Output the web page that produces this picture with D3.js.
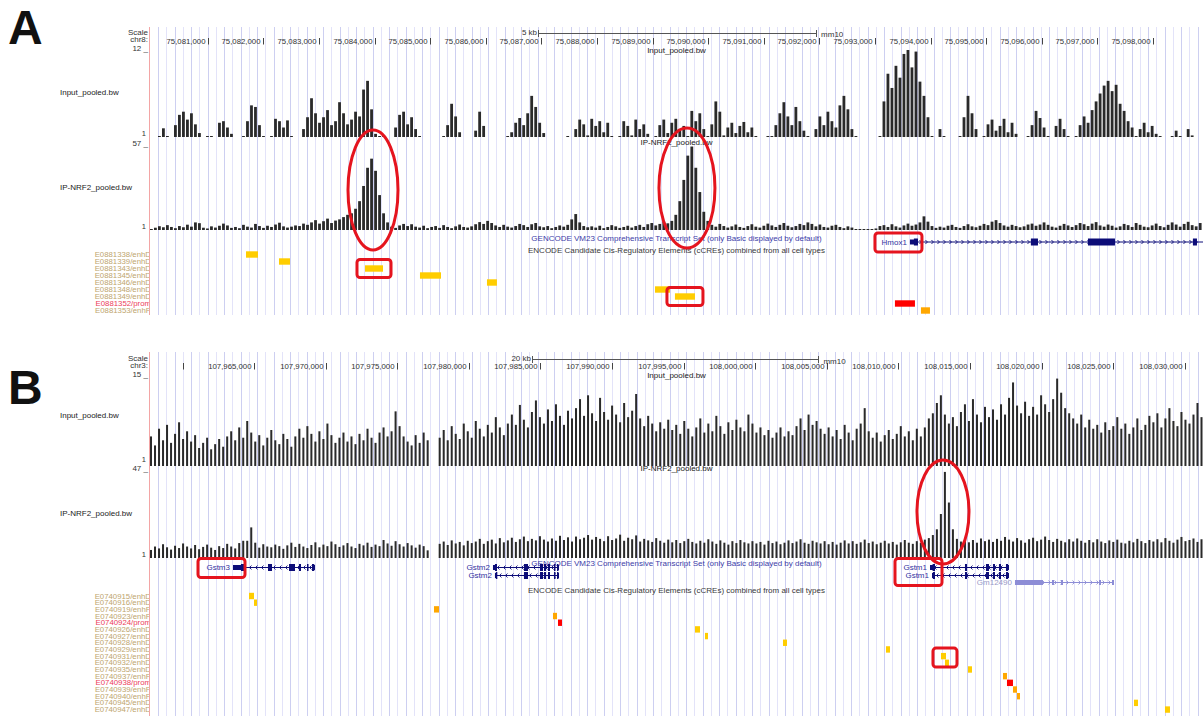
<!DOCTYPE html>
<html><head><meta charset="utf-8">
<script src="https://cdn.jsdelivr.net/npm/d3@7"></script>
<style>
body{margin:0;background:#fff;}
svg text{font-family:"Liberation Sans",Arial,Helvetica,sans-serif;}
</style></head><body>
<svg id="chart" width="1203" height="716"></svg>
<script>
// ---------------- DATA ----------------
const panelLetters = ["A", "B"];
const chromLabels = ["chr8:", "chr3:"];
const regionStart = [75079960, 107957730];
const regionEnd = [75098900, 108031265];
const binSize = [72, 280];
const scaleBarStart = [75086940, 107984406];
const scaleBarLength = [5000, 20000];
const scaleBarLabels = ["5 kb", "20 kb"];
const trackNames = ["Input_pooled.bw", "IP-NRF2_pooled.bw"];
const trackMaxA = [12, 57];
const trackMaxB = [15, 47];

const ticksA = [75081000,75082000,75083000,75084000,75085000,75086000,75087000,75088000,75089000,75090000,75091000,75092000,75093000,75094000,75095000,75096000,75097000,75098000];
const tickLabelsA = ["75,081,000","75,082,000","75,083,000","75,084,000","75,085,000","75,086,000","75,087,000","75,088,000","75,089,000","75,090,000","75,091,000","75,092,000","75,093,000","75,094,000","75,095,000","75,096,000","75,097,000","75,098,000"];
const ticksB = [107960000,107965000,107970000,107975000,107980000,107985000,107990000,107995000,108000000,108005000,108010000,108015000,108020000,108025000,108030000];
const tickLabelsB = ["","107,965,000","107,970,000","107,975,000","107,980,000","107,985,000","107,990,000","107,995,000","108,000,000","108,005,000","108,010,000","108,015,000","108,020,000","108,025,000","108,030,000"];

// signal values per bin (0 = no data)
const inputA = [
0,0,1,2.1,1,0,2.5,3.8,4.2,3.2,
4.0,2.6,1.5,0,1,1,0,2.8,3.0,2.2,
1.4,0,0,1,3.0,5.0,4.8,2.5,1,0,
1,3.3,3.0,2.2,3.1,1,0,0,2.0,3.5,
5.9,4.0,2.8,3.5,4.4,2.5,3.0,5.4,4.0,2.6,
3.2,4.2,3.6,7.0,8.1,4.5,1.4,1,1,0,
0,2.2,3.8,4.2,2.6,3.5,2.0,1,0,0,
0,0,0,1,2.5,5.2,3.6,1.6,0,0,
0,1.8,4.2,2.4,0,0,0,0,0,1,
1.6,2.8,3.4,2.5,4.0,6.2,4.8,2.8,1.5,0,
0,0,0,0,1,0,2.0,3.2,2.6,1.2,
3.3,2.4,3.0,1.6,2.8,1,0,1,3.0,2.4,
1.2,3.2,2.0,2.6,1.4,0,1,2.5,3.2,1.5,
2.8,3.3,1.8,2.4,1,4.3,3.0,4.0,2.0,1,
2.6,5.5,4.2,1.2,2.2,2.8,1.5,2.4,2.9,1.6,
2.2,1,0,0,1,1,2.5,4.0,5.4,3.6,
2.5,4.8,3.0,1.8,1,0,2.0,3.6,2.5,4.2,
3.0,2.2,5.0,6.2,4.5,2.0,1,0,0,0,
0,0,1,5.5,9.0,7.2,10.0,8.5,11.5,12.0,
9.8,11.8,8.0,6.2,3.5,1,0,2.0,1,0,
0,0,1,3.5,6.2,4.0,2.0,0,1,2.6,
3.2,1.8,2.4,3.3,1.6,2.8,1.4,0,0,1,
2.5,4.3,3.4,2.2,1,0,2.4,3.3,2.0,1,
0,1,2.5,3.6,2.8,4.4,5.5,6.5,7.5,8.1,
6.8,7.6,5.2,4.3,3.0,2.2,1,2.0,2.8,1.6,
2.4,1.4,1,0,0,1,1.8,1,0,2.0,1.2,0,0];

const ipA = [
1.5,2.5,3.5,2.8,4.2,3.0,2.2,3.6,2.8,4.5,
3.2,6.0,5.5,2.5,2.0,3.4,2.6,3.8,5.2,4.0,
2.4,3.0,2.2,4.4,3.2,2.6,5.0,3.6,2.4,3.8,
3.0,4.6,5.8,3.4,2.6,3.2,4.0,3.6,5.2,4.4,
6.0,7.5,5.2,6.8,8.5,5.6,7.2,8.0,9.5,11.0,
12,15,20,30,42,48,40,24,12,6,
3.2,2.4,4.0,5.0,3.6,4.8,3.2,2.6,3.8,2.2,
3.0,3.6,2.4,4.2,3.0,2.2,3.4,4.6,3.0,2.6,
3.4,4.8,6.2,5.0,7.0,5.6,4.0,3.0,4.4,3.2,
2.6,3.6,5.0,4.2,3.0,4.8,5.6,3.4,2.8,3.6,
2.2,3.0,4.0,3.2,4.4,8.0,11.5,6.0,3.6,2.8,
3.4,2.6,3.8,2.2,3.0,4.2,3.4,2.4,3.0,3.8,
2.6,3.6,4.4,3.0,4.8,5.6,4.0,5.0,6.5,5.4,
7,11,20,34,50,56,42,26,13,7,
4.4,3.2,5.0,3.6,2.6,3.4,4.6,3.0,2.4,3.6,
4.8,3.2,2.6,3.8,5.2,4.0,3.0,4.4,5.6,3.8,
2.8,3.6,5.0,4.2,6.0,5.0,3.4,4.6,3.0,2.6,
3.8,4.4,3.0,2.2,3.4,2.6,1.5,1.2,1.2,1.5,
1.2,2.0,3.6,4.2,3.0,4.8,3.4,2.6,4.0,5.2,
3.8,4.6,6.0,10.0,6.5,3.6,2.4,3.2,2.6,3.8,
4.4,3.0,2.4,3.6,4.8,3.4,2.8,3.8,5.0,4.2,
6.5,7.5,5.6,4.0,3.2,4.4,3.6,2.8,3.4,4.6,
5.2,3.8,4.6,6.0,4.4,3.2,2.6,3.8,5.0,4.0,
3.0,4.2,5.6,4.8,3.6,5.2,6.2,4.0,3.2,4.6,
3.8,2.6,3.4,5.0,4.2,3.0,5.6,4.4,3.2,2.8,
4.0,5.2,3.6,2.8,4.4,6.0,4.6,3.2,5.0,6.4,4.2,3.4,5.6];

const inputB = [
5.6,4.2,6.8,5.0,7.4,4.6,6.0,7.8,5.2,6.4,
4.8,5.8,3.8,4.6,5.4,3.6,4.4,5.2,4.0,5.6,
6.4,5.0,7.0,5.4,8.0,6.2,4.8,5.8,4.2,5.4,
6.6,5.0,4.4,6.0,5.2,4.0,5.6,6.8,5.4,7.2,
6.0,4.8,6.4,5.2,7.6,5.8,4.6,5.4,6.2,4.8,
5.6,4.4,6.0,5.0,6.8,5.4,4.6,6.2,7.0,5.6,
6.4,9.5,7.2,5.6,4.8,4.2,5.8,4.6,6.2,5.0,
0,0,5.4,6.6,5.0,7.2,6.0,5.2,7.6,6.4,
5.4,8.0,6.8,5.6,7.4,6.2,8.6,7.0,5.8,7.6,
9.0,7.4,10.5,8.2,7.0,9.4,11.2,8.6,7.6,9.8,
8.0,10.6,8.8,7.4,9.6,8.4,10.0,11.4,8.8,12.0,
9.2,8.0,11.6,9.4,8.2,10.4,9.0,7.8,10.8,8.6,
9.6,12.2,8.4,7.2,8.8,7.6,6.4,7.8,6.8,8.2,
6.6,7.4,6.0,8.0,6.8,5.6,7.0,8.4,6.2,7.6,
6.4,8.8,7.2,6.0,7.8,6.6,8.2,7.0,6.4,9.0,
7.6,6.2,7.0,5.8,6.6,5.4,6.2,7.0,5.6,6.4,
5.8,7.2,8.4,6.6,9.0,7.4,8.0,6.8,6.0,7.0,
5.6,6.6,5.2,7.4,6.2,5.0,6.8,7.6,10.0,6.4,
5.4,6.2,4.8,5.8,6.6,5.2,6.0,7.2,5.6,6.4,
5.0,6.8,5.6,7.0,8.4,9.2,10.8,12.0,9.0,7.6,
8.6,7.2,9.4,10.6,8.0,11.4,9.0,7.8,10.2,8.6,
9.8,8.2,10.6,9.0,11.6,14.0,10.4,9.2,11.0,8.8,
10.2,9.0,12.0,10.6,9.4,11.4,14.6,12.4,10.0,9.2,
8.4,7.6,9.0,7.0,8.2,6.8,7.4,6.2,7.8,6.6,
7.2,8.6,6.8,7.6,6.0,7.0,8.4,6.6,7.4,8.8,
7.8,9.2,7.0,8.4,10.0,8.0,7.2,9.4,8.2,7.6,9.0,10.8,8.6];

const ipB = [
5.2,7.0,6.0,8.2,6.6,5.4,7.4,6.2,8.6,7.0,
6.0,7.8,5.6,6.8,8.0,6.4,5.2,7.2,6.2,8.4,
7.0,6.0,8.8,10.0,10.0,17.0,9.0,6.4,8.2,7.0,
6.6,8.0,7.2,5.8,7.6,9.0,6.8,8.4,7.0,6.2,
7.8,9.2,6.6,8.0,7.2,9.6,8.2,6.8,7.6,8.8,
7.0,6.2,8.4,7.6,9.0,6.8,8.0,7.2,10.4,8.6,
7.4,9.8,8.2,7.0,8.8,7.6,6.4,8.0,7.2,5.0,
0,0,8.4,9.6,7.8,10.2,8.6,9.4,7.6,10.0,
8.8,9.6,11.0,8.4,9.8,10.6,8.6,11.4,9.2,10.2,
11.6,9.4,10.8,12.2,9.8,11.0,10.2,12.4,10.6,9.6,
11.2,10.0,12.6,10.4,11.8,9.6,12.2,10.8,11.6,13.0,
10.6,12.0,11.0,9.8,12.4,10.4,11.2,13.2,10.0,11.6,
10.8,12.8,9.6,11.0,10.2,9.4,11.4,10.0,9.0,10.6,
9.2,10.4,8.8,9.8,11.0,9.4,8.6,10.0,9.0,10.8,
9.6,8.4,10.2,9.0,8.0,9.8,8.8,10.4,9.2,8.6,
9.8,8.6,9.4,8.0,10.0,8.8,9.6,8.2,9.0,10.2,
8.8,9.6,10.8,9.0,8.4,10.0,9.2,8.6,9.8,8.2,
9.4,8.0,9.0,10.2,8.6,9.8,8.4,9.2,10.6,8.8,
9.6,8.2,9.0,10.0,8.6,9.4,8.0,9.2,10.4,9.0,
8.4,9.8,9.0,10.6,11.4,13.0,16.0,24.0,46.0,30.0,
16.0,11.0,9.6,10.8,9.2,10.4,9.0,11.2,9.8,10.6,
9.4,11.0,10.0,12.0,10.6,9.6,11.4,10.2,9.0,10.8,
11.6,9.8,10.6,12.2,10.4,9.4,11.0,10.0,9.2,10.8,
9.6,11.2,10.0,9.0,10.4,9.2,10.8,9.6,8.8,10.2,
9.4,10.6,9.0,8.6,10.0,9.2,11.0,9.8,8.8,10.4,
9.6,10.8,9.2,11.4,10.0,9.0,10.6,12.0,9.8,10.4,11.2,9.4,10.8];

// genes (GENCODE VM23)
const transcriptsA = [
 {name:"Hmox1", strand:"+", row:0, txStart:75093629, txEnd:75100593, thickStart:75093700, thickEnd:75100400,
  exonStarts:[75093629,75095805,75096831,75098719], exonEnds:[75093773,75095931,75097316,75098791]}
];
const transcriptsB = [
 {name:"Gstm3", strand:"-", row:0, txStart:107963526, txEnd:107969253, thickStart:107964080, thickEnd:107969200,
  exonStarts:[107963526,107965970,107967437,107968135,107968694,107969043], exonEnds:[107964364,107966250,107967856,107968275,107968764,107969253]},
 {name:"Gstm2", strand:"-", row:0, txStart:107981682, txEnd:107986291, thickStart:107981820, thickEnd:107986250,
  exonStarts:[107981682,107983847,107984964,107985244,107985523,107985942,107986152], exonEnds:[107981962,107984126,107985174,107985383,107985663,107986012,107986291]},
 {name:"Gstm2", strand:"-", row:1, txStart:107981820, txEnd:107986291, thickStart:107981880, thickEnd:107986250,
  exonStarts:[107981820,107983847,107984964,107985244,107985523,107985942,107986152], exonEnds:[107981962,107984126,107985174,107985383,107985663,107986012,107986291]},
 {name:"Gstm1", strand:"-", row:0, txStart:108012200, txEnd:108017716, thickStart:108012380, thickEnd:108017650,
  exonStarts:[108012200,108014644,108016110,108016598,108017017,108017506], exonEnds:[108012549,108014783,108016319,108016738,108017157,108017716]},
 {name:"Gstm1", strand:"-", row:1, txStart:108012340, txEnd:108017716, thickStart:108012400, thickEnd:108017650,
  exonStarts:[108012340,108014644,108016110,108016598,108017017,108017506], exonEnds:[108012549,108014783,108016319,108016738,108017157,108017716]},
 {name:"Gm12490", strand:"+", row:2, faint:true, txStart:108018135, txEnd:108025050, thickStart:108025050, thickEnd:108025050,
  exonStarts:[108018135,108020719,108021348,108024002,108024910], exonEnds:[108020090,108020859,108021488,108024142,108025050]}
];

// ENCODE cCREs
const ccreNamesA = ["E0881338/enhD","E0881339/enhD","E0881343/enhD","E0881345/enhD","E0881346/enhD","E0881348/enhD","E0881349/enhD","E0881352/prom","E0881353/enhP"];
const ccreStartA = [75081687,75082280,75083827,75084816,75086021,75089043,75089402,75093359,75093827];
const ccreEndA   = [75081902,75082478,75084151,75085194,75086200,75089313,75089762,75093719,75093989];
const ccreNamesB = ["E0740915/enhD","E0740916/enhD","E0740919/enhP","E0740923/enhP","E0740924/prom","E0740926/enhD","E0740927/enhD","E0740928/enhD","E0740929/enhD","E0740931/enhD","E0740932/enhD","E0740935/enhD","E0740937/enhP","E0740938/prom","E0740939/enhP","E0740940/enhP","E0740945/enhD","E0740947/enhD"];
const ccreStartB = [107964643,107964993,107977562,107985872,107986222,107995789,107996487,108001934,108009127,108012967,108013247,108014853,108017297,108017576,108017995,108018275,108026445,108028610];
const ccreEndB   = [107964993,107965202,107977912,107986152,107986501,107996138,107996696,108002213,108009406,108013317,108013526,108015132,108017576,108017995,108018275,108018484,108026724,108028959];

// highlighted features (red annotations)
const peakCentersA = [75083971, 75089618];
const peakCentersB = [108013107];
const boxedCcreA = [2, 6];
const boxedCcreB = [9];
const boxedGeneA = ["Hmox1"];
const boxedGeneB = ["Gstm3", "Gstm1"];

// ---------------- DRAWING ----------------
const X0 = 150, X1 = 1203, MIDX = (X0 + X1) / 2;
const svg = d3.select("#chart");
const ccreColor = {enhD:"#ffcd00", enhP:"#ffa700", prom:"#ff0000"};
const ccreLabelColor = {enhD:"#bea56e", enhP:"#bea56e", prom:"#ec3c5a"};
const RED = "#e5141e";

svg.append("defs").append("clipPath").attr("id","dataClip")
  .append("rect").attr("x",X0).attr("y",0).attr("width",X1-X0).attr("height",716);
svg.select("defs").append("clipPath").attr("id","labelClip")
  .append("rect").attr("x",0).attr("y",0).attr("width",X0-1).attr("height",716);

const layouts = [
 {top:27, bottom:315, letterY:44, scaleY:[32,39,47], tickY:41.5, barY:33, mmY:34.5, barGap:1.2,
  tracks:[{top:50, base:137, titleY:50, labelY:92, minY:133}, {top:145, base:230, titleY:142.5, labelY:187, minY:226}],
  geneTitleY:238, geneRowY:[242], ccreTitleY:250, ccreY0:254.5, ccreStep:7},
 {top:352, bottom:716, letterY:404, scaleY:[358,365,373], tickY:366.5, barY:359, mmY:361, barGap:2,
  tracks:[{top:376, base:466, titleY:375, labelY:415, minY:459.5}, {top:470, base:558, titleY:468.5, labelY:513, minY:554}],
  geneTitleY:563, geneRowY:[567.5,575.5,582.5], ccreTitleY:590, ccreY0:596, ccreStep:6.68}
];
const panelData = [
 {signals:[inputA, ipA], maxes:trackMaxA, ticks:ticksA, tickLabels:tickLabelsA, tx:transcriptsA,
  ccreNames:ccreNamesA, ccreStart:ccreStartA, ccreEnd:ccreEndA},
 {signals:[inputB, ipB], maxes:trackMaxB, ticks:ticksB, tickLabels:tickLabelsB, tx:transcriptsB,
  ccreNames:ccreNamesB, ccreStart:ccreStartB, ccreEnd:ccreEndB}
];
const scales = [];

function txt(g, x, y, s, opts = {}) {
  return g.append("text").attr("x", x).attr("y", y).text(s)
    .attr("font-size", opts.size || 8).attr("fill", opts.fill || "#222")
    .attr("text-anchor", opts.anchor || "start").attr("dominant-baseline", "central");
}

panelLetters.forEach((letter, pi) => {
  const L = layouts[pi], D = panelData[pi];
  const x = d3.scaleLinear().domain([regionStart[pi], regionEnd[pi]]).range([X0, X1]);
  scales.push(x);
  const g = svg.append("g");

  // guide lines
  g.selectAll(null).data(d3.range(158, X1, 8.25)).join("line")
    .attr("x1", d => Math.round(d) + 0.5).attr("x2", d => Math.round(d) + 0.5)
    .attr("y1", L.top).attr("y2", L.bottom)
    .attr("stroke", (d, i) => i % 2 ? "#e3e3f9" : "#cdcff1").attr("stroke-width", 1);
  g.append("line").attr("x1", X0 - 0.5).attr("x2", X0 - 0.5).attr("y1", L.top).attr("y2", L.bottom)
    .attr("stroke", "#f3a5a5").attr("stroke-width", 1);

  // panel letter
  g.append("text").attr("x", 8).attr("y", L.letterY).text(letter)
    .attr("font-size", 48).attr("font-weight", "bold").attr("fill", "#111");

  // scale / chrom / ruler
  txt(g, 148, L.scaleY[0], "Scale", {anchor:"end", fill:"#333"});
  txt(g, 148, L.scaleY[1], chromLabels[pi], {anchor:"end", fill:"#333"});
  D.ticks.forEach((t, i) => {
    const tx = Math.round(x(t)) + 0.5;
    g.append("line").attr("x1", tx).attr("x2", tx).attr("y1", L.tickY - 3.5).attr("y2", L.tickY + 3)
      .attr("stroke", "#444");
    if (D.tickLabels[i]) txt(g, tx - 3, L.tickY, D.tickLabels[i], {anchor:"end", fill:"#333", size:7.8});
  });
  const xa = x(scaleBarStart[pi]), xb = x(scaleBarStart[pi] + scaleBarLength[pi]);
  g.append("line").attr("x1", xa).attr("x2", xb).attr("y1", L.barY + 0.5).attr("y2", L.barY + 0.5).attr("stroke", "#555");
  [xa, xb].forEach(v => g.append("line").attr("x1", Math.round(v) + 0.5).attr("x2", Math.round(v) + 0.5)
    .attr("y1", L.barY - 3).attr("y2", L.barY + 4).attr("stroke", "#555"));
  txt(g, xa - 1, L.barY - 1, scaleBarLabels[pi], {anchor:"end", fill:"#333"});
  txt(g, xb + 5, L.mmY, "mm10", {fill:"#333"});

  // signal tracks
  D.signals.forEach((vals, ti) => {
    const T = L.tracks[ti];
    const y = d3.scaleLinear().domain([1, D.maxes[ti]]).range([T.base, T.top]);
    txt(g, MIDX, T.titleY, trackNames[ti], {anchor:"middle", fill:"#222"});
    txt(g, 60, T.labelY, trackNames[ti], {fill:"#222"});
    txt(g, 148, T.top - 2, D.maxes[ti] + " _", {anchor:"end", fill:"#333"});
    txt(g, 146, T.minY, "1", {anchor:"end", fill:"#333", size:7.5});
    const bin = binSize[pi];
    g.append("g").attr("clip-path", "url(#dataClip)")
      .selectAll("rect").data(vals.map((v, i) => ({v, s: regionStart[pi] + i * bin})).filter(d => d.v > 0))
      .join("rect")
      .attr("x", d => x(d.s))
      .attr("width", d => Math.max(1, x(d.s + bin) - x(d.s) - L.barGap))
      .attr("y", d => Math.min(y(d.v), T.base - 1))
      .attr("height", d => Math.max(1, T.base - y(d.v)))
      .attr("fill", "#2a2a2a");
  });

  // gene track
  txt(g, MIDX, L.geneTitleY, "GENCODE VM23 Comprehensive Transcript Set (only Basic displayed by default)", {anchor:"middle", fill:"#3d3da8"});
  const gg = g.append("g");
  D.tx.forEach(t => {
    const yy = L.geneRowY[t.row];
    const col = t.faint ? "#8d8dd6" : "#0c0c78";
    const gc = gg.append("g").attr("clip-path", "url(#dataClip)");
    const xs = x(t.txStart), xe = Math.min(x(t.txEnd), X1);
    gc.append("line").attr("x1", xs).attr("x2", xe).attr("y1", yy).attr("y2", yy).attr("stroke", col).attr("stroke-width", 1);
    d3.range(xs + 5, xe - 2, 6).forEach(ax => {
      const d = t.strand === "+" ? 1 : -1;
      gc.append("path").attr("d", `M${ax - 1.5 * d},${yy - 2} L${ax + 0.5 * d},${yy} L${ax - 1.5 * d},${yy + 2}`)
        .attr("fill", "none").attr("stroke", col).attr("stroke-width", 0.9);
    });
    t.exonStarts.forEach((es, k) => {
      const ee = t.exonEnds[k];
      gc.append("rect").attr("x", x(es)).attr("width", Math.max(1, x(ee) - x(es)))
        .attr("y", yy - 2.5).attr("height", 5).attr("fill", col);
      const ts = Math.max(es, t.thickStart), te = Math.min(ee, t.thickEnd);
      if (te > ts) gc.append("rect").attr("x", x(ts)).attr("width", Math.max(1.5, x(te) - x(ts)))
        .attr("y", yy - 3.5).attr("height", 7).attr("fill", col);
    });
    txt(gg, xs - 3, yy, t.name, {anchor:"end", fill: t.faint ? "#9a9ac8" : "#3232a0"});
  });

  // cCRE track
  txt(g, MIDX, L.ccreTitleY, "ENCODE Candidate Cis-Regulatory Elements (cCREs) combined from all cell types", {anchor:"middle", fill:"#3a3a3a"});
  const lg = g.append("g").attr("clip-path", "url(#labelClip)");
  D.ccreNames.forEach((nm, k) => {
    const cls = nm.split("/")[1];
    const yy = L.ccreY0 + k * L.ccreStep;
    txt(lg, 151, yy, nm, {anchor:"end", fill: ccreLabelColor[cls], size: 7.8});
    g.append("rect").attr("x", x(D.ccreStart[k])).attr("width", Math.max(2, x(D.ccreEnd[k]) - x(D.ccreStart[k])))
      .attr("y", yy - 3.2).attr("height", 6.4).attr("fill", ccreColor[cls]);
  });
});

// ---------------- RED ANNOTATIONS ----------------
const ann = svg.append("g").attr("fill", "none").attr("stroke", RED).attr("stroke-width", 3);
const ellipseSpec = [
 {pi:0, centers:peakCentersA, cy:190, rx:25, ry:60},
 {pi:1, centers:peakCentersB, cy:512, rx:26, ry:52}
];
ellipseSpec.forEach(e => e.centers.forEach((c, k) => {
  ann.append("ellipse").attr("cx", scales[e.pi](c)).attr("cy", e.cy + (e.pi === 0 && k === 1 ? -2 : 0))
    .attr("rx", e.rx + (e.pi === 0 && k === 1 ? 3 : 0)).attr("ry", e.ry);
}));
[[0, boxedCcreA, ccreStartA, ccreEndA], [1, boxedCcreB, ccreStartB, ccreEndB]].forEach(([pi, idx, st, en]) => {
  const L = layouts[pi], x = scales[pi];
  idx.forEach(k => {
    const y0 = L.ccreY0 + k * L.ccreStep;
    const xs = x(st[k]), xe = x(en[pi === 1 ? k + 1 : k]);
    const padX = 8, padY = pi === 0 ? 9 : 8;
    ann.append("rect").attr("x", xs - padX).attr("y", y0 - padY)
      .attr("width", xe - xs + 2 * padX).attr("height", pi === 0 ? 18 : 19).attr("rx", 3);
  });
});
[[0, boxedGeneA, transcriptsA], [1, boxedGeneB, transcriptsB]].forEach(([pi, names, txs]) => {
  const L = layouts[pi], x = scales[pi];
  names.forEach(nm => {
    const rows = txs.filter(t => t.name === nm);
    const xs = d3.min(rows, t => x(t.txStart));
    const maxRow = d3.max(rows, t => t.row);
    const y0 = L.geneRowY[0], y1 = L.geneRowY[maxRow];
    const w = nm.length * 4.6 + 8;
    ann.append("rect").attr("x", xs - w - 4).attr("y", y0 - 9)
      .attr("width", w + 16).attr("height", y1 - y0 + 19).attr("rx", 3);
  });
});
</script>
</body></html>
